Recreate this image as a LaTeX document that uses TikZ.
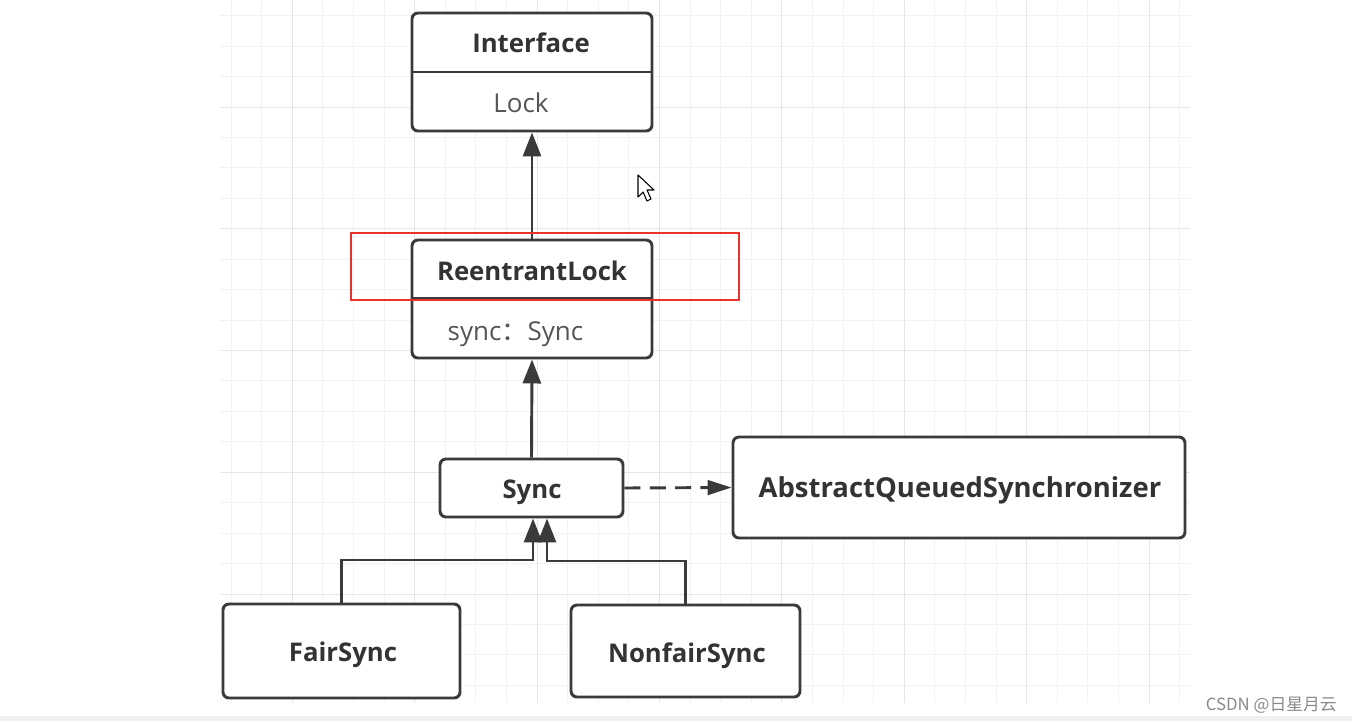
\documentclass[tikz,border=0pt]{standalone}
\usepackage{fontspec}
\setmainfont{Open Sans}
\newfontfamily\cjk{Noto Sans CJK SC}
\usetikzlibrary{arrows.meta,fit,calc}
\definecolor{ink}{HTML}{3A3A3A}
\definecolor{txt}{HTML}{333333}
\definecolor{soft}{HTML}{555555}
\definecolor{gridminor}{HTML}{F2F2F2}
\definecolor{gridmajor}{HTML}{E6E6E6}
\definecolor{hl}{HTML}{E8322C}
\definecolor{barcol}{HTML}{F0F0F0}
\definecolor{wm}{HTML}{8A8A8A}
\begin{document}
\begin{tikzpicture}[x=0.75pt,y=-0.75pt,
  box/.style={draw=ink, line width=2.2pt, rounded corners=4.5pt, inner sep=0pt, fill=white},
  title/.style={font=\fontsize{19.3}{22}\selectfont\bfseries, text=txt, inner sep=0pt, anchor=base},
  bigtitle/.style={font=\fontsize{20.6}{23}\selectfont\bfseries, text=txt, inner sep=0pt, anchor=base},
  attr/.style={font=\fontsize{19.5}{22}\selectfont, text=soft, inner sep=0pt, anchor=base},
  arr/.style={draw=ink, line width=2.2pt, -{Triangle[length=18pt,width=13.5pt]}},
  darr/.style={draw=ink, line width=2.2pt, dash pattern=on 12pt off 7pt, -{Triangle[length=18pt,width=11pt]}},
  divider/.style={draw=ink, line width=2.2pt},
  minorline/.style={draw=gridminor, line width=0.75pt},
  majorline/.style={draw=gridmajor, line width=0.75pt},
  hlbox/.style={draw=hl, line width=1.6pt}]
\useasboundingbox (0,0) rectangle (1352,721);
\fill[white] (0,0) rectangle (1352,721);
% grid
\foreach \i in {0,...,31} {\draw[minorline] (231+\i*30.6,0) -- (231+\i*30.6,703);}
\foreach \j in {0,...,22} {\draw[minorline] (220,15.7+\j*30.44) -- (1190,15.7+\j*30.44);}
\foreach \i in {2,6,...,30} {\draw[majorline] (231+\i*30.6,0) -- (231+\i*30.6,703);}
\foreach \j in {3,7,...,19} {\draw[majorline] (220,15.7+\j*30.44) -- (1190,15.7+\j*30.44);}
\fill[barcol] (0,716) rectangle (1352,721);
% boxes
\node[box, fit={(412,13) (652,131)}] (iface) {};
\draw[divider] (iface.west |- 0,72) -- (iface.east |- 0,72);
\node[title] (ifacet) at (531,52) {Interface};
\node[attr] (lockt) at (521,112) {Lock};
\node[box, fit={(412,240) (652,358)}] (rl) {};
\draw[divider] (rl.west |- 0,298) -- (rl.east |- 0,298);
\node[title] (rlt) at (532,280) {ReentrantLock};
\node[attr] (synct) at (515.5,340) {sync{\cjk ：}Sync};
\node[box, fit={(440,459) (623,517)}] (sync) {};
\node[title] (syncn) at (532,498) {Sync};
\node[box, fit={(733,437) (1185,538)}] (aqs) {};
\node[bigtitle] (aqst) at (960,497) {AbstractQueuedSynchronizer};
\node[box, fit={(223,604) (460,698)}] (fair) {};
\node[title] (fairt) at (343,661) {FairSync};
\node[box, fit={(571,605) (800,697)}] (nonfair) {};
\node[title] (nonfairt) at (687,662) {NonfairSync};
% connectors
\draw[arr] (rl.north) -- (iface.south);
\draw[arr] (sync.north) -- (rl.south);
\draw[darr] (sync.east) -- (aqs.west);
\coordinate (fa) at ($(sync.south)+(1.5,0)$);
\coordinate (na) at ($(sync.south)+(15.5,0)$);
\draw[arr] (fair.north) -- (fair.north |- 0,560) -- (fa |- 0,560) -- (fa);
\draw[arr] (nonfair.north) -- (nonfair.north |- 0,561) -- (na |- 0,561) -- (na);
% highlight
\draw[hlbox] (351,233) rectangle (739,300);
% cursor
\draw[black, line width=0.8pt, fill=white, line join=round] (638,175) -- (638,197) -- (643,192) -- (647,201) -- (651,199) -- (647,190) -- (654,190) -- cycle;
% watermark
\node[anchor=base east, inner sep=0pt, text=wm, font=\cjk\fontsize{12.6}{14}\selectfont] (wmark) at (1337,710) {CSDN @日星月云};
\end{tikzpicture}
\end{document}
